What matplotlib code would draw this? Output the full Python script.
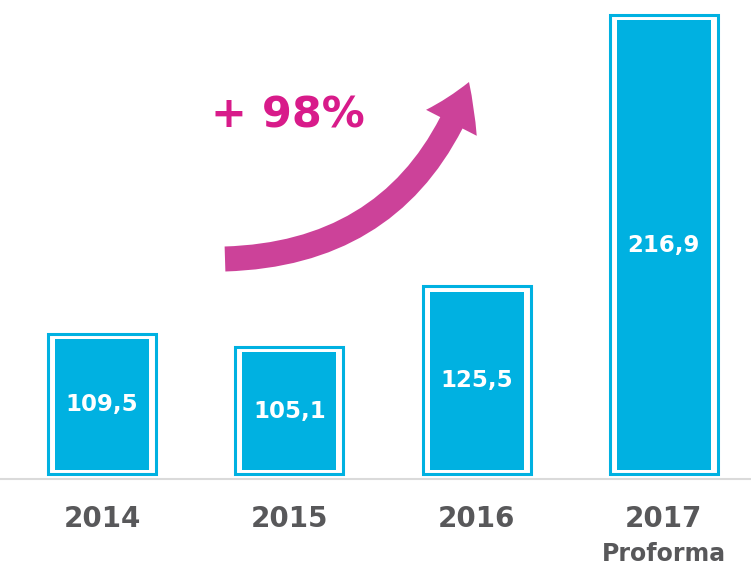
import matplotlib
matplotlib.use("Agg")
import matplotlib.pyplot as plt
from matplotlib.patches import FancyArrowPatch
import numpy as np

categories = ["2014", "2015", "2016", "2017\nProforma"]
years = ["2014", "2015", "2016", "2017"]
values = [109.5, 105.1, 125.5, 216.9]
value_labels = ["109,5", "105,1", "125,5", "216,9"]
growth_label = "+ 98%"

BAR_BASE = 65.4
CYAN = "#00b1e1"
GRAY_TXT = "#58585a"
MAGENTA_TXT = "#d81b8a"
MAGENTA_ARROW = "#cc4299"

fig = plt.figure(figsize=(7.51, 5.67), dpi=100)
ax = fig.add_axes([0, 0, 1, 1])
ax.set_xlim(-0.5446, 3.465)
ax.set_ylim(32.74, 223.65)
ax.axis("off")

x = np.arange(len(values))
vals = np.array(values)

# outer frames
ax.bar(x, vals + 1.85 - 63.9, bottom=63.9, width=0.577, facecolor="white",
       edgecolor=CYAN, linewidth=2.2, zorder=2)
# inner bars
ax.bar(x, vals - BAR_BASE, bottom=BAR_BASE, width=0.502, color=CYAN,
       linewidth=0, zorder=3)

ax.axhline(62.37, color="#dadada", lw=1.5, zorder=1)

for xi, v, lab in zip(x, vals, value_labels):
    ax.text(xi, (v + BAR_BASE) / 2, lab, ha="center", va="center",
            color="white", fontsize=16.5, fontweight="bold", zorder=4)

for xi, y in zip(x, years):
    ax.text(xi, 48.9, y, ha="center", va="center", color=GRAY_TXT,
            fontsize=20, fontweight="bold")
ax.text(x[3], 37.1, "Proforma", ha="center", va="center", color=GRAY_TXT,
        fontsize=17, fontweight="bold")

# overlay in pixel coordinates for decoration
ov = fig.add_axes([0, 0, 1, 1])
ov.set_xlim(0, 751)
ov.set_ylim(567, 0)
ov.axis("off")
ov.patch.set_alpha(0)

arrow = FancyArrowPatch((225, 259), (469, 82),
                        connectionstyle="arc3,rad=0.34",
                        arrowstyle="simple,head_length=32,head_width=41,tail_width=18",
                        mutation_scale=1, color=MAGENTA_ARROW, lw=0,
                        shrinkA=0, shrinkB=0)
ov.add_patch(arrow)

ov.text(288, 115, growth_label, ha="center", va="center", color=MAGENTA_TXT,
        fontsize=31, fontweight="bold")

fig.savefig("out.png", dpi=100)
